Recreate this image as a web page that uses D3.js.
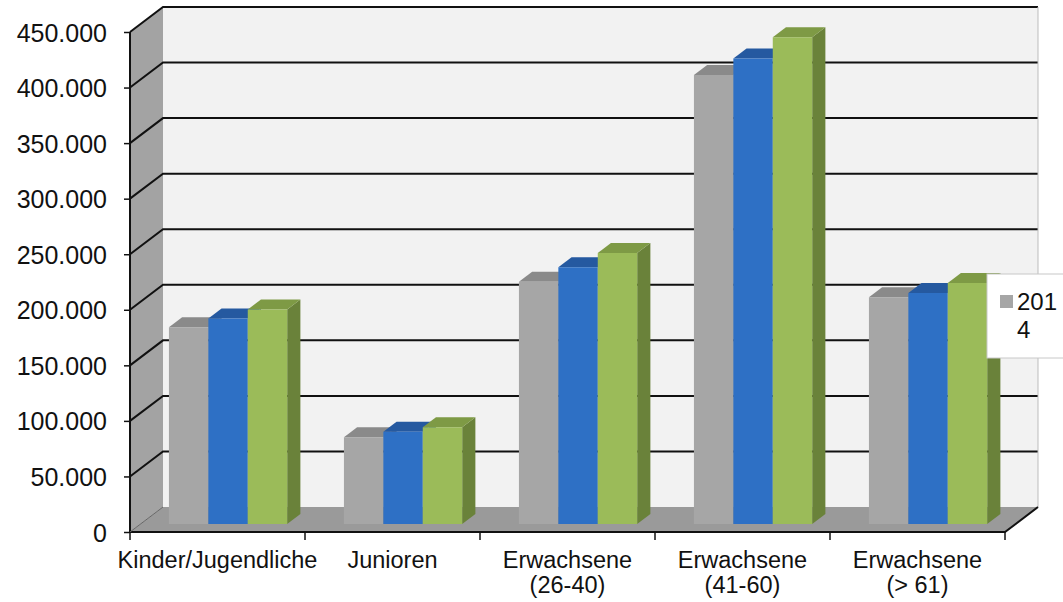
<!DOCTYPE html>
<html><head><meta charset="utf-8">
<script src="https://cdn.jsdelivr.net/npm/d3@7"></script>
<style>body{margin:0;background:#fff}svg{display:block;font-family:"Liberation Sans",Arial,sans-serif}</style>
</head><body><svg id="c" width="1063" height="602"></svg>
<script>
const categories = [["Kinder/Jugendliche"],["Junioren"],["Erwachsene","(26-40)"],["Erwachsene","(41-60)"],["Erwachsene","(> 61)"]];
const series = ["2014","2015","2016"];
const values2014 = [177000, 78000, 218000, 404000, 204000];
const values2015 = [185000, 83000, 231000, 419000, 208000];
const values2016 = [193000, 87000, 244000, 438000, 217000];
const yTicks = [0,50000,100000,150000,200000,250000,300000,350000,400000,450000];

const seriesValues = [values2014, values2015, values2016];
const colors = [
  {front:"#a6a6a6", top:"#8a8a8a", side:"#7f7f7f"},
  {front:"#2e70c5", top:"#2559a0", side:"#21508f"},
  {front:"#9bbb59", top:"#7e9a45", side:"#6a823a"}
];

const svg = d3.select("#c");
const X0 = 130, X1 = 1005, Y0 = 532, Y1 = 32;
const DX = 33, DY = -25;
const x = d3.scaleBand().domain(d3.range(categories.length)).range([X0, X1]);
const y = d3.scaleLinear().domain([0, 450000]).range([Y0, Y1]);
const xs = d3.scaleBand().domain(series).range([0, x.bandwidth()]).paddingOuter(0.72);
const P = (px, py, z) => [px + z*DX, py + z*DY];
const poly = pts => "M" + pts.map(p => p.join(",")).join("L") + "Z";

// back wall
svg.append("path").attr("d", poly([P(X0,Y0,1),P(X1,Y0,1),P(X1,Y1,1),P(X0,Y1,1)])).attr("fill","#f2f2f2");
// left wall
svg.append("path").attr("d", poly([P(X0,Y0,0),P(X0,Y0,1),P(X0,Y1,1),P(X0,Y1,0)])).attr("fill","#a3a3a3");
// floor
svg.append("path").attr("d", poly([P(X0,Y0,0),P(X1,Y0,0),P(X1,Y0,1),P(X0,Y0,1)])).attr("fill","#9a9a9a");

// gridlines
yTicks.forEach(t => {
  if (t === 0) return;
  const a = P(X0, y(t), 0), b = P(X0, y(t), 1), c = P(X1, y(t), 1);
  svg.append("path").attr("d", `M${a}L${b}L${c}`).attr("fill","none").attr("stroke","#111").attr("stroke-width",2);
});
// back wall right edge
svg.append("line").attr("x1",X1+DX).attr("x2",X1+DX).attr("y1",Y0+DY).attr("y2",Y1+DY).attr("stroke","#bdbdbd").attr("stroke-width",1);

// bars
const zf = 0.32, zb = 0.72;
categories.forEach((c, i) => {
  series.forEach((s, j) => {
    const v = seriesValues[j][i];
    const xl = x(i) + xs(s), xr = xl + xs.bandwidth();
    const yt = y(v), yb = y(0);
    const col = colors[j];
    const g = svg.append("g");
    g.append("path").attr("d", poly([P(xr,yb,zf),P(xr,yb,zb),P(xr,yt,zb),P(xr,yt,zf)])).attr("fill", col.side);
    g.append("path").attr("d", poly([P(xl,yt,zf),P(xr,yt,zf),P(xr,yt,zb),P(xl,yt,zb)])).attr("fill", col.top);
    g.append("path").attr("d", poly([P(xl,yb,zf),P(xr,yb,zf),P(xr,yt,zf),P(xl,yt,zf)])).attr("fill", col.front);
  });
});

// axes lines
svg.append("line").attr("x1",X0).attr("x2",X0).attr("y1",Y1).attr("y2",Y0).attr("stroke","#111").attr("stroke-width",2);
svg.append("path").attr("d", `M${X0},${Y0}L${X1},${Y0}L${X1+DX},${Y0+DY}`).attr("fill","none").attr("stroke","#111").attr("stroke-width",2);
svg.append("path").attr("d", `M${X0},${Y0}L${X0+DX},${Y0+DY}`).attr("stroke","#666").attr("stroke-width",1);

// y axis ticks & labels
const yAxis = d3.axisLeft(y).tickValues(yTicks).tickSize(6).tickPadding(17)
  .tickFormat(d => d === 0 ? "0" : d3.format(",")(d).replace(/,/g, "."));
const ya = svg.append("g").attr("transform", `translate(${X0},0)`).call(yAxis);
ya.select(".domain").remove();
ya.selectAll("line").attr("stroke","#111").attr("stroke-width",1.5);
ya.selectAll("text").attr("font-size",25).attr("fill","#111").attr("dy","0.36em").attr("font-family","'Liberation Sans',Arial,sans-serif");

// x ticks
d3.range(categories.length + 1).forEach(i => {
  const px = X0 + i * x.step();
  svg.append("line").attr("x1",px).attr("x2",px).attr("y1",Y0).attr("y2",Y0+8).attr("stroke","#111").attr("stroke-width",1.5);
});
// category labels
categories.forEach((c, i) => {
  const cx = x(i) + x.bandwidth()/2;
  const t = svg.append("text").attr("text-anchor","middle").attr("font-size",23.5).attr("fill","#111")
    .attr("x", cx).attr("y", 568);
  c.forEach((line, k) => t.append("tspan").attr("x", cx).attr("dy", k === 0 ? 0 : 25).text(line));
});

// legend (clipped at right edge)
svg.append("rect").attr("x",987).attr("y",274).attr("width",90).attr("height",84).attr("fill","#fff").attr("stroke","#c8c8c8");
svg.append("rect").attr("x",1000).attr("y",295).attr("width",13).attr("height",13).attr("fill",colors[0].front);
const lt = svg.append("text").attr("font-size",24).attr("fill","#111");
lt.append("tspan").attr("x",1017).attr("y",310).text(series[0].slice(0,3));
lt.append("tspan").attr("x",1017).attr("y",338).text(series[0].slice(3));
</script></body></html>
